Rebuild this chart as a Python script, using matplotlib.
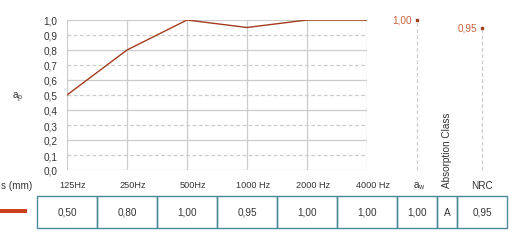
import matplotlib.pyplot as plt
from matplotlib.patches import Rectangle

plt.rcParams['font.family'] = ['Liberation Sans', 'DejaVu Sans']

freqs = ['125Hz', '250Hz', '500Hz', '1000 Hz', '2000 Hz', '4000 Hz']
ap = [0.50, 0.80, 1.00, 0.95, 1.00, 1.00]
aw = 1.00
nrc = 0.95
abs_class = 'A'
yticks = [0.0, 0.1, 0.2, 0.3, 0.4, 0.5, 0.6, 0.7, 0.8, 0.9, 1.0]

W, H = 528, 251
line_col = '#a33c1c'
lab_col = '#c8603c'
grid_col = '#cccccc'
txt_col = '#333333'
fs = 7.2

fig = plt.figure(figsize=(W / 100, H / 100), dpi=100)

# main chart, pixels 67..367 x 21..171
ax = fig.add_axes([67 / W, (H - 171) / H, 300 / W, 150 / H])
ax.set_xlim(0, len(freqs) - 1)
ax.set_ylim(0, 1)
for s in ax.spines.values():
    s.set_visible(False)
for i, v in enumerate(yticks):
    ls = '-' if i % 2 == 0 else (0, (3, 2))
    ax.axhline(v, color=grid_col, lw=0.9, ls=ls, zorder=0)
for i in range(len(freqs)):
    ax.axvline(i, color=grid_col, lw=0.9, zorder=0)
ax.plot(range(len(freqs)), ap, color=line_col, lw=1.0, zorder=3)
ax.set_xticks([])
ax.set_yticks(yticks)
ax.set_yticklabels([f'{v:.1f}'.replace('.', ',') for v in yticks],
                   fontsize=fs, color=txt_col)
ax.tick_params(axis='y', length=0, pad=7)

# single-number values right of the chart
px = 1 / 60  # data units per pixel along x
extras = [(5 + 50 * px, aw), (5 + 115 * px, nrc)]
for x, v in extras:
    ax.plot([x, x], [0, v], color=grid_col, lw=0.9, ls=(0, (3, 2)),
            clip_on=False, zorder=1)
    ax.plot([x], [v], marker='s', ms=2, color=line_col, clip_on=False, zorder=3)
    ax.text(x - 5 * px, v, f'{v:.2f}'.replace('.', ','), ha='right', va='center',
            fontsize=fs, color=lab_col, clip_on=False)

# overlay in pixel coordinates for labels and table
ov = fig.add_axes([0, 0, 1, 1])
ov.set_xlim(0, W)
ov.set_ylim(H, 0)
ov.axis('off')

ov.text(18, 98, 'a$_\\mathregular{p}$', fontsize=fs, color=txt_col, ha='center', va='center')
for i, f in enumerate(freqs):
    ov.text(67 + 60 * i + 6, 186, f, fontsize=fs - 0.6, color=txt_col, ha='center', va='center')
ov.text(419, 186, 'a$_\\mathregular{w}$', fontsize=fs, color=txt_col, ha='center', va='center')
ov.text(447, 188, 'Absorption Class', fontsize=fs, color=txt_col, rotation=90,
        ha='center', va='bottom')
ov.text(1, 186, 's (mm)', fontsize=fs, color=txt_col, ha='left', va='center')
ov.text(482, 186, 'NRC', fontsize=fs, color=txt_col, ha='center', va='center')

# legend swatch
ov.add_patch(Rectangle((0, 210), 27, 4, color='#c8401c', lw=0))

# table row
edges = [37, 97, 157, 217, 277, 337, 397, 437, 457, 507]
cells = [f'{v:.2f}'.replace('.', ',') for v in ap] + \
        [f'{aw:.2f}'.replace('.', ','), abs_class, f'{nrc:.2f}'.replace('.', ',')]
top, bot = 197, 229
for i, c in enumerate(cells):
    x0, x1 = edges[i], edges[i + 1]
    ov.add_patch(Rectangle((x0, top), x1 - x0, bot - top, fill=False,
                           edgecolor='#4d8a99', lw=1.0))
    ov.text((x0 + x1) / 2, (top + bot) / 2, c, fontsize=fs, color=txt_col,
            ha='center', va='center')

fig.savefig('out.png', dpi=100)
